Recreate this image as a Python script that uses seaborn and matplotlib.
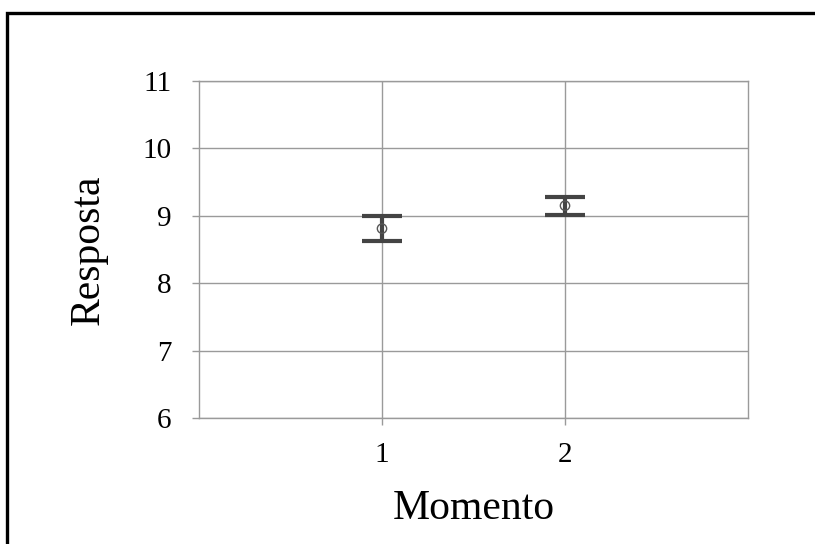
import matplotlib
matplotlib.use("Agg")
import matplotlib.pyplot as plt
import seaborn as sns
import pandas as pd
from matplotlib.patches import Rectangle

# Estimated means and interval bounds per moment
momento = [1, 2]
media = [8.81, 9.15]
inferior = [8.633, 9.013]
superior = [8.993, 9.28]
y_ticks = [6, 7, 8, 9, 10, 11]
x_ticks = [1, 2]

df = pd.DataFrame({"Momento": momento, "Resposta": media,
                   "inf": inferior, "sup": superior})

sns.set_theme(style="white")
plt.rcParams["font.family"] = ["Liberation Serif", "DejaVu Serif"]

fig = plt.figure(figsize=(8.15, 5.44), dpi=100)
ax = fig.add_axes([199 / 815, 1 - 418 / 544, (748 - 199) / 815, (418 - 81) / 544])

grid_c = "#9a9a9a"
ax.set_xlim(0, 3)
ax.set_ylim(6, 11)
ax.set_xticks(x_ticks)
ax.set_yticks(y_ticks)
ax.grid(True, color=grid_c, linewidth=1.0)
for s in ax.spines.values():
    s.set_color(grid_c)
    s.set_linewidth(1.0)
ax.tick_params(axis="both", which="major", length=5, width=1.0, color=grid_c,
               labelsize=21, labelcolor="black", direction="out",
               bottom=True, left=True)
ax.tick_params(axis="x", pad=12)
ax.tick_params(axis="y", pad=15)

# Error bars from the interval bounds
yerr = [df["Resposta"] - df["inf"], df["sup"] - df["Resposta"]]
ax.errorbar(df["Momento"], df["Resposta"], yerr=yerr, fmt="none",
            ecolor="#444444", elinewidth=3.0, capsize=14.4, capthick=3.0,
            zorder=3)

# Means as open circles
sns.scatterplot(data=df, x="Momento", y="Resposta", ax=ax, marker="o",
                s=45, facecolor="none", edgecolor="#555555", linewidth=1.0,
                zorder=4)

ax.set_xlabel("Momento", fontsize=30, labelpad=16, color="black")
ax.set_ylabel("Resposta", fontsize=30, labelpad=25, color="black")

# Outer frame around the figure
fig.patches.append(Rectangle((7 / 815, -0.1), 1.2, 1 - 13 / 544 + 0.1,
                             transform=fig.transFigure, fill=False,
                             edgecolor="black", linewidth=2.4, zorder=10))

fig.savefig("out.png", dpi=100)
